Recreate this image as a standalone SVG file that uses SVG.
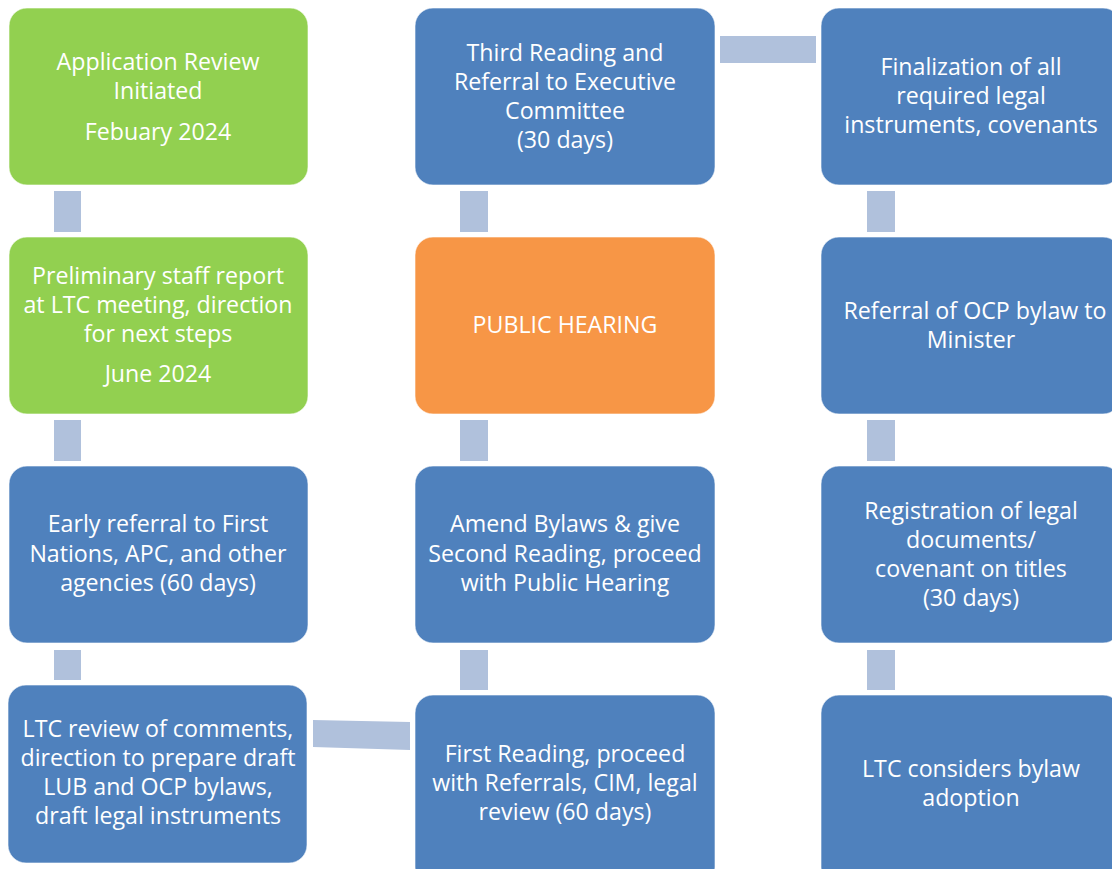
<svg xmlns="http://www.w3.org/2000/svg" width="1112" height="869" viewBox="0 0 1112 869">
<style>
.box{stroke:#ffffff;stroke-width:1;stroke-opacity:0.6}
.g{fill:#92D050}
.b{fill:#4F81BD}
.o{fill:#F79646}
.c{fill:#B0C1DC}
text{font-family:"Open Sans","Noto Sans",sans-serif;font-size:23.2px;fill:#ffffff;text-anchor:middle}
</style>
<rect width="1112" height="869" fill="#ffffff"/>
<g id="connectors">
<rect class="c" x="54" y="191" width="27" height="41"/>
<rect class="c" x="54" y="420" width="27" height="41"/>
<rect class="c" x="54" y="650" width="27" height="30"/>
<polygon class="c" points="313,720 410,722 410,750 313,747"/>
<rect class="c" x="460" y="650" width="28" height="40"/>
<rect class="c" x="460" y="420" width="28" height="41"/>
<rect class="c" x="460" y="191" width="28" height="41"/>
<rect class="c" x="720" y="36" width="96" height="27"/>
<rect class="c" x="867" y="191" width="28" height="41"/>
<rect class="c" x="867" y="420" width="28" height="41"/>
<rect class="c" x="867" y="650" width="28" height="40"/>
</g>
<g id="n1">
<rect class="box g" x="9" y="8" width="299" height="177" rx="18"/>
<text x="158" y="70">Application Review</text>
<text x="158" y="99">Initiated</text>
<text x="158" y="140">Febuary 2024</text>
</g>
<g id="n2">
<rect class="box g" x="9" y="237" width="299" height="177" rx="18"/>
<text x="158" y="284">Preliminary staff report</text>
<text x="158" y="313">at LTC meeting, direction</text>
<text x="158" y="342">for next steps</text>
<text x="158" y="382">June 2024</text>
</g>
<g id="n3">
<rect class="box b" x="9" y="466" width="299" height="177" rx="18"/>
<text x="158" y="532">Early referral to First</text>
<text x="158" y="562">Nations, APC, and other</text>
<text x="158" y="591">agencies (60 days)</text>
</g>
<g id="n4">
<rect class="box b" x="8" y="685" width="299" height="178" rx="18"/>
<text x="158" y="737">LTC review of comments,</text>
<text x="158" y="766">direction to prepare draft</text>
<text x="158" y="795">LUB and OCP bylaws,</text>
<text x="158" y="824">draft legal instruments</text>
</g>
<g id="n5">
<rect class="box b" x="415" y="695" width="300" height="190" rx="18"/>
<text x="565" y="762">First Reading, proceed</text>
<text x="565" y="791">with Referrals, CIM, legal</text>
<text x="565" y="820">review (60 days)</text>
</g>
<g id="n6">
<rect class="box b" x="415" y="466" width="300" height="177" rx="18"/>
<text x="565" y="532">Amend Bylaws &amp; give</text>
<text x="565" y="562">Second Reading, proceed</text>
<text x="565" y="591">with Public Hearing</text>
</g>
<g id="n7">
<rect class="box o" x="415" y="237" width="300" height="177" rx="18"/>
<text x="565" y="333">PUBLIC HEARING</text>
</g>
<g id="n8">
<rect class="box b" x="415" y="8" width="300" height="177" rx="18"/>
<text x="565" y="61">Third Reading and</text>
<text x="565" y="90">Referral to Executive</text>
<text x="565" y="119">Committee</text>
<text x="565" y="148">(30 days)</text>
</g>
<g id="n9">
<rect class="box b" x="821" y="8" width="300" height="177" rx="18"/>
<text x="971" y="75">Finalization of all</text>
<text x="971" y="104">required legal</text>
<text x="971" y="133">instruments, covenants</text>
</g>
<g id="n10">
<rect class="box b" x="821" y="237" width="300" height="177" rx="18"/>
<text x="975" y="319">Referral of OCP bylaw to</text>
<text x="971" y="348">Minister</text>
</g>
<g id="n11">
<rect class="box b" x="821" y="466" width="300" height="177" rx="18"/>
<text x="971" y="519">Registration of legal</text>
<text x="971" y="548">documents/</text>
<text x="971" y="577">covenant on titles</text>
<text x="971" y="606">(30 days)</text>
</g>
<g id="n12">
<rect class="box b" x="821" y="695" width="300" height="190" rx="18"/>
<text x="971" y="777">LTC considers bylaw</text>
<text x="971" y="806">adoption</text>
</g>
</svg>
